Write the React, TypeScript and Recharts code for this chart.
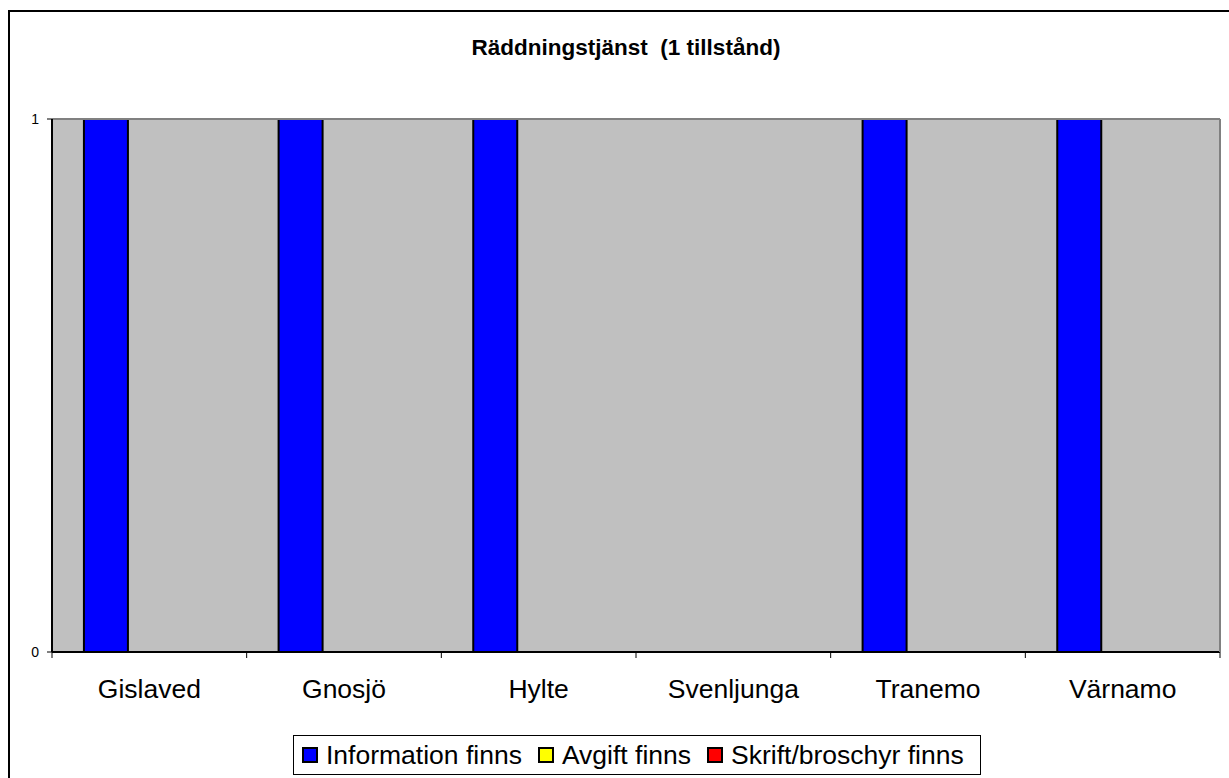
import { BarChart, Bar, XAxis, YAxis, CartesianGrid, Legend, ReferenceLine } from "recharts";

const municipalities = ["Gislaved", "Gnosjö", "Hylte", "Svenljunga", "Tranemo", "Värnamo"];
const informationFinns = [1, 1, 1, 0, 1, 1];
const avgiftFinns = [0, 0, 0, 0, 0, 0];
const skriftFinns = [0, 0, 0, 0, 0, 0];
const yTicks = [0, 1];

const SERIES = [
  { key: "Information finns", color: "#0000FF" },
  { key: "Avgift finns", color: "#FFFF00" },
  { key: "Skrift/broschyr finns", color: "#FF0000" },
];

const FONT = "Arial, 'Liberation Sans', sans-serif";

const data = municipalities.map((name, i) => ({
  name,
  "Information finns": informationFinns[i],
  "Avgift finns": avgiftFinns[i],
  "Skrift/broschyr finns": skriftFinns[i],
}));

// Excel style: tick marks sit between categories, label in the middle
function CategoryTick({ x, y, payload, index, visibleTicksCount }: any) {
  const half = payload?.offset ?? 0;
  const last = index === visibleTicksCount - 1;
  return (
    <g>
      <line x1={x - half} x2={x - half} y1={y - 6} y2={y} stroke="#000" strokeWidth={1} />
      {last && <line x1={x + half} x2={x + half} y1={y - 6} y2={y} stroke="#000" strokeWidth={1} />}
      <text x={x} y={y + 40} textAnchor="middle" fontSize={26.5} fontFamily={FONT} fill="#000">
        {payload.value}
      </text>
    </g>
  );
}

function LegendBox() {
  return (
    <div
      style={{
        boxSizing: "border-box",
        width: "100%",
        height: "100%",
        border: "1px solid #000",
        background: "#fff",
        display: "flex",
        alignItems: "center",
        paddingLeft: 8,
        fontFamily: FONT,
        fontSize: 26.5,
        color: "#000",
        whiteSpace: "nowrap",
      }}
    >
      {SERIES.map((s) => (
        <span key={s.key} style={{ display: "flex", alignItems: "center", marginRight: 16 }}>
          <span
            style={{
              boxSizing: "border-box",
              width: 16,
              height: 16,
              background: s.color,
              border: "2px solid #000",
              marginRight: 8,
            }}
          />
          {s.key}
        </span>
      ))}
    </div>
  );
}

export default function App() {
  return (
    <div style={{ position: "absolute", left: 0, top: 0, width: 1229, height: 778, overflow: "hidden", background: "#fff" }}>
      <div
        style={{
          position: "absolute",
          left: 8,
          top: 10,
          width: 1240,
          height: 800,
          border: "2px solid #000",
        }}
      />
      <div style={{ position: "absolute", left: 0, top: 0 }}>
        <BarChart
          width={1229}
          height={778}
          data={data}
          margin={{ top: 119, right: 8, left: 0, bottom: 86 }}
          barCategoryGap="16.4%"
          barGap={0}
        >
          <text
            x={626}
            y={55}
            textAnchor="middle"
            fontSize={22.5}
            fontWeight="bold"
            fontFamily={FONT}
            fill="#000"
            style={{ whiteSpace: "pre" }}
          >
            Räddningstjänst  (1 tillstånd)
          </text>
          <CartesianGrid fill="#C0C0C0" horizontal={false} vertical={false} />
          <XAxis
            dataKey="name"
            height={40}
            axisLine={{ stroke: "#000", strokeWidth: 2 }}
            tickLine={false}
            tickSize={6}
            tickMargin={0}
            interval={0}
            tick={<CategoryTick />}
          />
          <YAxis
            width={52}
            domain={[0, 1]}
            ticks={yTicks}
            tickSize={5}
            tickMargin={8}
            tick={{ fill: "#000", fontSize: 14, fontFamily: FONT }}
            axisLine={{ stroke: "#000", strokeWidth: 2 }}
            tickLine={{ stroke: "#000", strokeWidth: 1 }}
          />
          <YAxis
            yAxisId="edge"
            orientation="right"
            width={1}
            domain={[0, 1]}
            tick={false}
            tickLine={false}
            axisLine={{ stroke: "#808080", strokeWidth: 2 }}
          />
          <ReferenceLine y={1} stroke="#808080" strokeWidth={2} />
          {SERIES.map((s) => (
            <Bar
              key={s.key}
              dataKey={s.key}
              fill={s.color}
              stroke="#000"
              strokeWidth={2}
              isAnimationActive={false}
            />
          ))}
          <Legend
            layout="horizontal"
            verticalAlign="middle"
            align="center"
            content={<LegendBox />}
            wrapperStyle={{ left: 293, top: 735, width: 688, height: 40 }}
          />
        </BarChart>
      </div>
    </div>
  );
}
